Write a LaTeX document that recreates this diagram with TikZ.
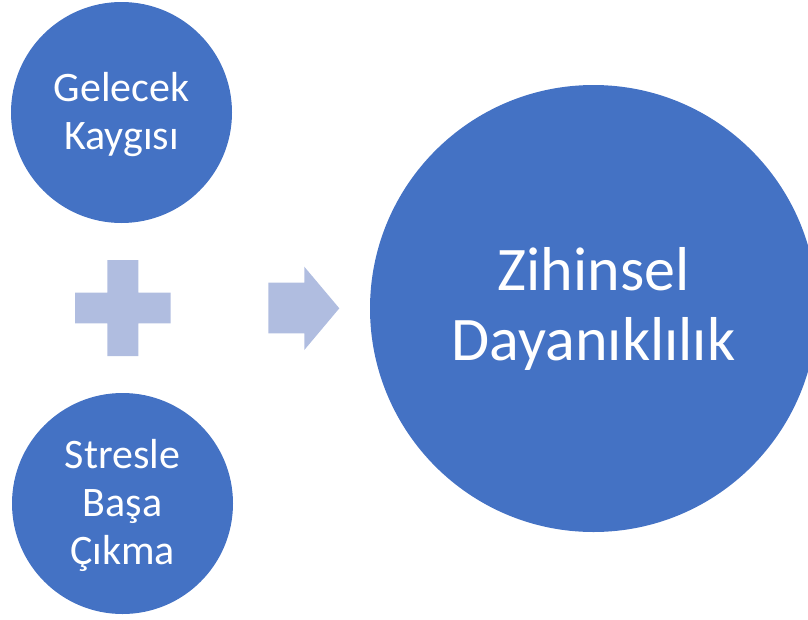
\documentclass[tikz,border=0pt]{standalone}
\usepackage{fontspec}
\setmainfont{Carlito}
\definecolor{circblue}{HTML}{4472C4}
\definecolor{lightblue}{HTML}{B0BDE0}
\begin{document}
\begin{tikzpicture}[x=1pt,y=-1pt,
  bubble/.style={circle,fill=circblue,draw=none,text=white,align=center,inner sep=0pt},
  small/.style={bubble,minimum size=221pt,font=\fontsize{42}{48}\selectfont},
  big/.style={bubble,minimum size=447pt,font=\fontsize{62}{70}\selectfont},
  shapefill/.style={fill=lightblue,draw=none}]
\useasboundingbox (0,0) rectangle (808,619);
\node[small] (top) at (121.5,112.5) {};
\node[small] (bot) at (122.5,503.5) {};
\node[big] (res) at (593.5,308.5) {};
\node[text=white,align=center,font=\fontsize{42}{48}\selectfont] (toptext) at (121.5,114.5) {Gelecek\\Kaygısı};
\node[text=white,align=center,font=\fontsize{42}{48}\selectfont] (bottext) at (122.5,505.5) {Stresle\\Başa\\Çıkma};
\node[text=white,align=center,font=\fontsize{62}{70}\selectfont] (restext) at (593.5,308.5) {Zihinsel\\Dayanıklılık};
% plus sign
\path[shapefill] (107.3,260) -- (138.3,260) -- (138.3,292.7) -- (170.7,292.7)
  -- (170.7,323.3) -- (138.3,323.3) -- (138.3,356) -- (107.3,356) -- (107.3,323.3)
  -- (75,323.3) -- (75,292.7) -- (107.3,292.7) -- cycle;
% arrow
\path[shapefill] (268.3,282.7) -- (304.3,282.7) -- (304.3,266.7) -- (339.3,308.3)
  -- (304.3,350) -- (304.3,333.3) -- (268.3,333.3) -- cycle;
\end{tikzpicture}
\end{document}
